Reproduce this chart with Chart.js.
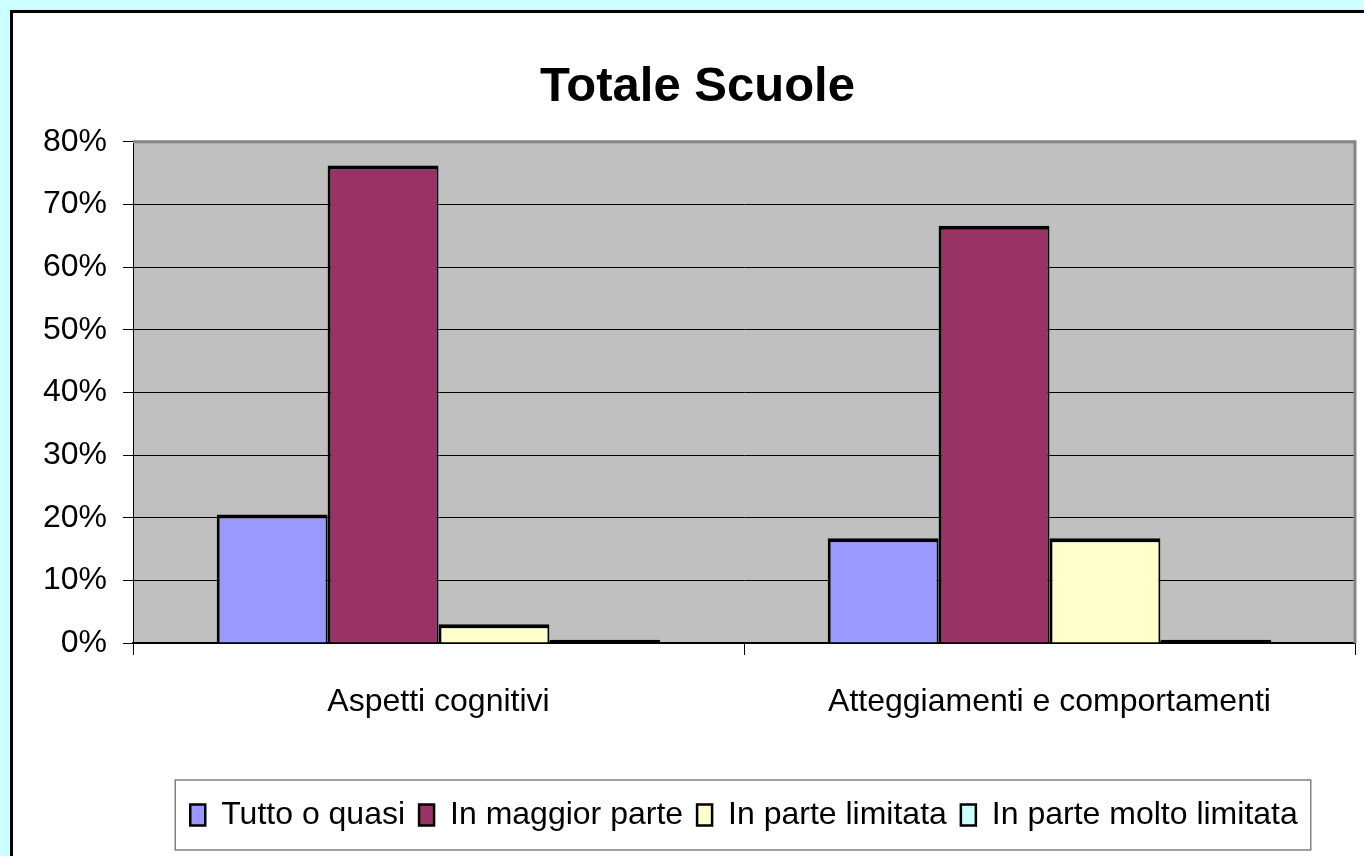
<!DOCTYPE html>
<html>
<head>
<meta charset="utf-8">
<title>Totale Scuole</title>
<script src="https://cdn.jsdelivr.net/npm/chart.js@4.4.1/dist/chart.umd.min.js"></script>
<style>
  html, body { margin: 0; padding: 0; background: #CCFFFF; }
  #wrap { width: 1364px; height: 856px; }
  canvas { display: block; }
</style>
</head>
<body>
<div id="wrap"><canvas id="chart" width="1364" height="856"></canvas></div>
<script>
// Categories and series (percentages)
const categories = ['Aspetti cognitivi', 'Atteggiamenti e comportamenti'];
const seriesNames = ['Tutto o quasi', 'In maggior parte', 'In parte limitata', 'In parte molto limitata'];
const tuttoOQuasi = [20.5, 16.7];
const inMaggiorParte = [76.2, 66.6];
const inParteLimitata = [3.0, 16.7];
const inParteMoltoLimitata = [0.5, 0.5];
const yTicks = [0, 10, 20, 30, 40, 50, 60, 70, 80];

const seriesColors = ['#9999FF', '#993366', '#FFFFCC', '#CCFFFF'];
const FONT = "'Liberation Sans', Arial, Helvetica, sans-serif";

// Page panel, plot background
const backgroundPlugin = {
  id: 'panelBackground',
  beforeDraw(chart) {
    const ctx = chart.ctx;
    const a = chart.chartArea;
    ctx.save();
    ctx.fillStyle = '#CCFFFF';
    ctx.fillRect(0, 0, chart.width, chart.height);
    ctx.fillStyle = '#FFFFFF';
    ctx.fillRect(10, 10, chart.width - 10, chart.height - 10);
    ctx.fillStyle = '#000000';
    ctx.fillRect(10, 10, 3, chart.height - 10);
    ctx.fillRect(10, 10, chart.width - 10, 3);
    ctx.fillStyle = '#C0C0C0';
    ctx.fillRect(a.left, a.top, a.right - a.left, a.bottom - a.top);
    ctx.restore();
  },
  afterDatasetsDraw(chart) {
    const ctx = chart.ctx;
    const a = chart.chartArea;
    ctx.save();
    ctx.strokeStyle = '#858585';
    ctx.lineWidth = 3;
    ctx.beginPath();
    ctx.moveTo(a.left, a.top);
    ctx.lineTo(a.right, a.top);
    ctx.lineTo(a.right, a.bottom);
    ctx.stroke();
    ctx.restore();
  }
};

// Frame around the legend entries
const legendFramePlugin = {
  id: 'legendFrame',
  afterDraw(chart) {
    const boxes = chart.legend && chart.legend.legendHitBoxes;
    if (!boxes || !boxes.length) return;
    const first = boxes[0];
    const last = boxes[boxes.length - 1];
    const left = first.left - 15;
    const right = last.left + last.width + 13;
    const midY = first.top + first.height / 2;
    const top = midY - 35;
    const bottom = midY + 35;
    const ctx = chart.ctx;
    ctx.save();
    ctx.strokeStyle = '#808080';
    ctx.lineWidth = 1.5;
    ctx.strokeRect(left, top, right - left, bottom - top);
    ctx.restore();
  }
};

const barBorder = { top: 4, left: 3, right: 2, bottom: 0 };
const thinBarBorder = { top: 4, left: 3, right: 2, bottom: 4 };

const seriesValues = [tuttoOQuasi, inMaggiorParte, inParteLimitata, inParteMoltoLimitata];
const datasets = seriesNames.map((name, i) => ({
  label: name,
  data: seriesValues[i],
  backgroundColor: seriesColors[i],
  borderColor: '#000000',
  borderWidth: i === 3 ? thinBarBorder : barBorder,
  borderSkipped: false,
  categoryPercentage: 0.726,
  barPercentage: 1.0
}));

new Chart(document.getElementById('chart'), {
  type: 'bar',
  data: { labels: categories, datasets: datasets },
  plugins: [backgroundPlugin, legendFramePlugin],
  options: {
    responsive: false,
    animation: false,
    devicePixelRatio: 1,
    layout: { padding: { left: 40, right: 9, top: 0, bottom: 15 } },
    plugins: {
      tooltip: { enabled: false },
      title: {
        display: true,
        text: 'Totale Scuole',
        color: '#000000',
        font: { family: FONT, size: 49, weight: 'bold' },
        padding: { top: 58, bottom: 25 }
      },
      legend: {
        display: true,
        position: 'bottom',
        fullSize: false,
        labels: {
          color: '#000000',
          font: { family: FONT, size: 32 },
          boxWidth: 15,
          boxHeight: 21,
          padding: 14,
          generateLabels(chart) {
            const items = Chart.defaults.plugins.legend.labels.generateLabels(chart);
            items.forEach(it => { it.lineWidth = 2.5; it.strokeStyle = '#000000'; });
            return items;
          }
        }
      }
    },
    scales: {
      x: {
        afterFit(scale) { scale.height = 142; },
        grid: {
          display: true,
          drawOnChartArea: false,
          drawTicks: true,
          tickLength: 12,
          offset: true,
          color: '#000000',
          lineWidth: 1
        },
        border: { display: true, color: '#000000', width: 1.5 },
        ticks: {
          color: '#000000',
          font: { family: FONT, size: 32 },
          padding: 28,
          maxRotation: 0
        }
      },
      y: {
        min: 0,
        max: 80,
        afterFit(scale) { scale.width = 93; },
        afterBuildTicks(scale) { scale.ticks = yTicks.map(v => ({ value: v })); },
        grid: {
          display: true,
          color: '#000000',
          lineWidth: 1,
          drawTicks: true,
          tickLength: 10
        },
        border: { display: true, color: '#000000', width: 1 },
        ticks: {
          color: '#000000',
          font: { family: FONT, size: 32 },
          padding: 16,
          callback: v => v + '%'
        }
      }
    }
  }
});
</script>
</body>
</html>
